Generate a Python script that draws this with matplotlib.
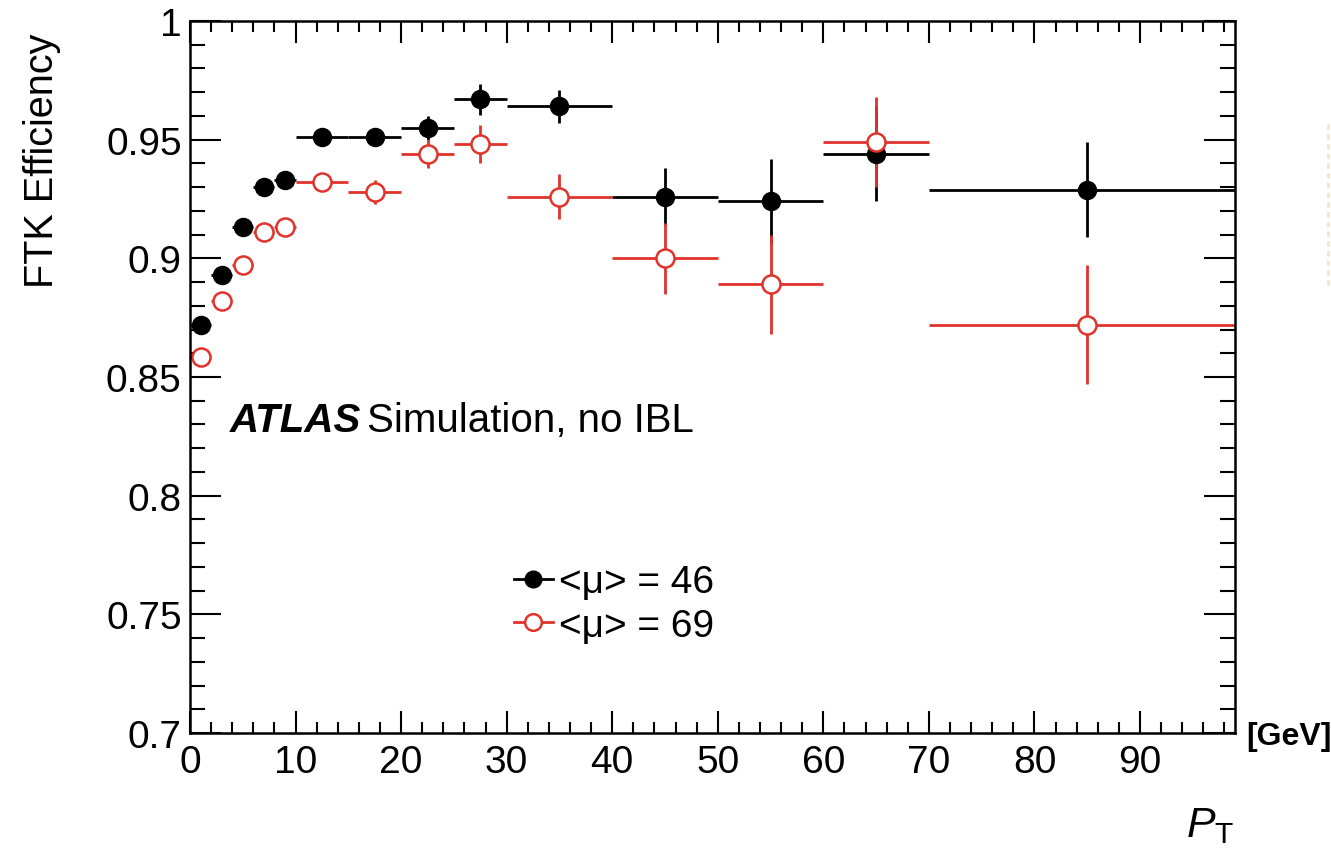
import numpy as np
import matplotlib
matplotlib.use('Agg')
import matplotlib.pyplot as plt
from matplotlib.lines import Line2D
from matplotlib.ticker import MultipleLocator, FuncFormatter

plt.rcParams['font.family'] = ['Liberation Sans', 'DejaVu Sans']
plt.rcParams['mathtext.fontset'] = 'custom'
plt.rcParams['mathtext.rm'] = 'Liberation Sans'
plt.rcParams['mathtext.it'] = 'Liberation Sans:italic'

# pT bins (centre and half width) in GeV
pt_centre = [1, 3, 5, 7, 9, 12.5, 17.5, 22.5, 27.5, 35, 45, 55, 65, 85]
pt_halfwidth = [1, 1, 1, 1, 1, 2.5, 2.5, 2.5, 2.5, 5, 5, 5, 5, 15]

# FTK efficiency, <mu> = 46
eff_mu46 = [0.872, 0.893, 0.913, 0.930, 0.933, 0.951, 0.951, 0.955, 0.967,
            0.964, 0.926, 0.924, 0.944, 0.929]
err_mu46 = [0.001, 0.001, 0.001, 0.0015, 0.0015, 0.002, 0.002, 0.005, 0.0065,
            0.007, 0.012, 0.018, 0.020, 0.020]

# FTK efficiency, <mu> = 69
eff_mu69 = [0.8585, 0.882, 0.897, 0.911, 0.913, 0.932, 0.928, 0.944, 0.948,
            0.926, 0.900, 0.889, 0.949, 0.872]
err_mu69 = [0.001, 0.0015, 0.0015, 0.002, 0.002, 0.002, 0.005, 0.006, 0.008,
            0.0095, 0.015, 0.021, 0.019, 0.025]

labels = ['<μ> = 46', '<μ> = 69']
red = '#e0332b'
msize = 13

fig = plt.figure(figsize=(13.31, 8.54), dpi=100)
ax = fig.add_axes([190 / 1331, 1 - 734 / 854, 1045 / 1331, 712 / 854])

ax.errorbar(pt_centre, eff_mu46, xerr=pt_halfwidth, yerr=err_mu46, fmt='o',
            color='black', ms=msize, elinewidth=2, capsize=0)
ax.errorbar(pt_centre, eff_mu69, xerr=pt_halfwidth, yerr=err_mu69, fmt='o',
            color=red, mfc='white', mec=red, mew=1.8, ms=msize, elinewidth=2,
            capsize=0)

ax.set_xlim(0, 99)
ax.set_ylim(0.7, 1.0)
ax.xaxis.set_major_locator(MultipleLocator(10))
ax.xaxis.set_minor_locator(MultipleLocator(2))
ax.yaxis.set_major_locator(MultipleLocator(0.05))
ax.yaxis.set_minor_locator(MultipleLocator(0.01))
ax.yaxis.set_major_formatter(FuncFormatter(lambda v, _: f'{v:g}'))

ax.tick_params(which='both', direction='in', top=True, right=True,
               labelsize=28, width=1.5)
ax.tick_params(axis='x', which='major', length=16, pad=8)
ax.tick_params(axis='x', which='minor', length=8)
ax.tick_params(axis='y', which='major', length=22, pad=6)
ax.tick_params(axis='y', which='minor', length=11)
for s in ax.spines.values():
    s.set_linewidth(1.8)

# axis titles, ROOT style
fig.text(42 / 1331, 1 - 33 / 854, 'FTK Efficiency', rotation=90,
         ha='center', va='top', fontsize=28.5)
fig.text(1246 / 1331, 1 - 737 / 854, '[GeV]', ha='left', va='center',
         fontsize=23, fontweight='bold')
fig.text(1210 / 1331, 1 - 826 / 854, r'$P_{\mathrm{T}}$', ha='center',
         va='center', fontsize=31)

t = ax.text(0.038, 0.44, 'ATLAS', transform=ax.transAxes, fontsize=29,
            fontweight='bold', fontstyle='italic', va='center')
fig.canvas.draw()
bb = t.get_window_extent().transformed(ax.transAxes.inverted())
ax.text(bb.x1 + 0.006, 0.44, 'Simulation, no IBL', transform=ax.transAxes,
        fontsize=29, va='center')

handles = [
    Line2D([], [], color='black', marker='o', ms=msize - 1, lw=2),
    Line2D([], [], color=red, marker='o', ms=msize - 1, lw=2, mfc='white',
           mew=1.8),
]
ax.legend(handles, labels, loc='center left', bbox_to_anchor=(0.31, 0.181),
          frameon=False, fontsize=28, handlelength=1.0, handletextpad=0.15,
          labelspacing=0.2, borderpad=0, borderaxespad=0)

# faint edge of the neighbouring panel
fig.add_artist(Line2D([1328 / 1331, 1328 / 1331], [1 - 125 / 854, 1 - 290 / 854],
                      transform=fig.transFigure, color='#f9d7b5', lw=2,
                      ls=(0, (2, 1.5)), alpha=0.7))

fig.savefig('out.png', dpi=100)
